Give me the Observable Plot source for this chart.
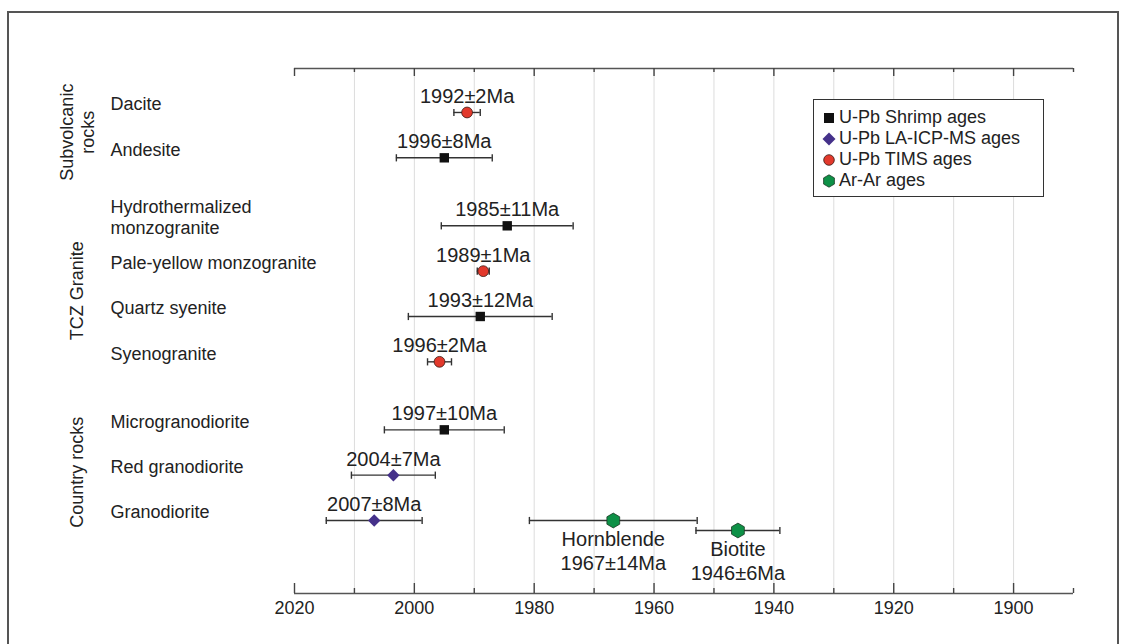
<!DOCTYPE html>
<html><head><meta charset="utf-8">
<script src="https://cdn.jsdelivr.net/npm/d3@7"></script>
<script src="https://cdn.jsdelivr.net/npm/@observablehq/plot@0.6"></script>
<style>
body{margin:0;background:#fff;font-family:"Liberation Sans",Arial,sans-serif;color:#222;}
#wrap{position:relative;width:1128px;height:644px;overflow:hidden;background:#fff;}
#chart{position:absolute;left:0;top:0;}
#border{position:absolute;left:7px;top:11px;width:1112px;height:700px;border:2px solid #555;box-sizing:border-box;pointer-events:none;}
#legend{position:absolute;left:813px;top:99px;width:231px;height:98px;border:1.5px solid #333;box-sizing:border-box;background:#fff;padding:7px 0 0 8px;}
#legend .row{display:flex;align-items:center;height:21px;font-size:18px;line-height:21px;color:#222;white-space:nowrap;}
#legend svg{width:14px;height:14px;margin-right:3px;}
</style></head><body>
<div id="wrap"><div id="chart"></div><div id="legend"></div><div id="border"></div></div>
<script>
// ---- data ----
const groupNames = ["Subvolcanic\nrocks", "TCZ Granite", "Country rocks"];
const sampleNames = ["Dacite", "Andesite", "Hydrothermalized\nmonzogranite", "Pale-yellow monzogranite",
  "Quartz syenite", "Syenogranite", "Microgranodiorite", "Red granodiorite", "Granodiorite"];
const sampleGroup = [0, 0, 1, 1, 1, 1, 2, 2, 2];

const mSample = ["Dacite", "Andesite", "Hydrothermalized\nmonzogranite", "Pale-yellow monzogranite",
  "Quartz syenite", "Syenogranite", "Microgranodiorite", "Red granodiorite", "Granodiorite",
  "Granodiorite", "Granodiorite"];
const mMethod = ["TIMS", "Shrimp", "Shrimp", "TIMS", "Shrimp", "TIMS", "Shrimp", "LA", "LA", "ArAr", "ArAr"];
const mAge = [1991.2, 1995, 1984.5, 1988.5, 1989, 1995.8, 1995, 2003.5, 2006.7, 1966.8, 1946];
const mErr = [2.2, 8, 11, 1, 12, 2, 10, 7, 8, 14, 7];
const mLabel = ["1992±2Ma", "1996±8Ma", "1985±11Ma", "1989±1Ma", "1993±12Ma", "1996±2Ma",
  "1997±10Ma", "2004±7Ma", "2007±8Ma", "Hornblende\n1967±14Ma", "Biotite\n1946±6Ma"];

const methodKeys = ["Shrimp", "LA", "TIMS", "ArAr"];
const methodNames = ["U-Pb Shrimp ages", "U-Pb LA-ICP-MS ages", "U-Pb TIMS ages", "Ar-Ar ages"];

const majorYears = [2020, 2000, 1980, 1960, 1940, 1920, 1900];
const minorYears = [2010, 1990, 1970, 1950, 1930, 1910, 1890];
const gridYears = [2010, 2000, 1990, 1980, 1970, 1960, 1950, 1940, 1930, 1920, 1910, 1900];
const xDomain = [2020, 1890];

// ---- styles ----
const methodStyle = {
  Shrimp: {symbol: "square", r: 5.3, fill: "#111", stroke: "none", strokeWidth: 0},
  LA: {symbol: "diamond2", r: 5.6, fill: "#45318a", stroke: "none", strokeWidth: 0},
  TIMS: {symbol: "circle", r: 5.4, fill: "#e2392c", stroke: "#3a1a14", strokeWidth: 0.8},
  ArAr: {symbol: "hexagon", r: 6.4, fill: "#0e9147", stroke: "#1d3a26", strokeWidth: 0.8}
};

// ---- layout of rows: groups separated by a half-row gap ----
const rowOf = {};
const samples = sampleNames.map((s, i) => {
  const row = i + 0.5 * sampleGroup[i];
  rowOf[s] = row;
  return {name: s, row};
});
const groups = groupNames.map((g, gi) => {
  const rows = samples.filter((s, i) => sampleGroup[i] === gi).map(s => s.row);
  return {name: g, row: (d3.min(rows) + d3.max(rows)) / 2};
});
const lastRow = d3.max(samples, d => d.row);
const yDomain = [-0.97, lastRow + 1.61];

const meas = mSample.map((s, i) => ({
  sample: s, method: mMethod[i], age: mAge[i], err: mErr[i], label: mLabel[i],
  lo: mAge[i] - mErr[i], hi: mAge[i] + mErr[i], row: rowOf[s]
}));
// bars that touch an earlier bar on the same row are nudged down
meas.forEach((d, i) => {
  d.shifted = meas.slice(0, i).some(p => p.row === d.row && !p.shifted &&
    Math.max(p.lo, d.lo) <= Math.min(p.hi, d.hi) + 0.5);
});

const capSymbol = {
  draw(context, size) {
    const h = Math.sqrt(size / Math.PI);
    context.moveTo(0, -h);
    context.lineTo(0, h);
  }
};

function layer(data, dy) {
  const out = [
    Plot.ruleY(data, {y: "row", x1: "lo", x2: "hi", stroke: "#333", strokeWidth: 1.4, dy}),
    Plot.dot(data, {x: "lo", y: "row", symbol: capSymbol, r: 3.6, fill: "none", stroke: "#333", strokeWidth: 1.4, dy}),
    Plot.dot(data, {x: "hi", y: "row", symbol: capSymbol, r: 3.6, fill: "none", stroke: "#333", strokeWidth: 1.4, dy})
  ];
  for (const k of methodKeys) {
    const st = methodStyle[k];
    out.push(Plot.dot(data.filter(d => d.method === k), {
      x: "age", y: "row", symbol: st.symbol, r: st.r, fill: st.fill,
      stroke: st.stroke, strokeWidth: st.strokeWidth, dy
    }));
  }
  out.push(Plot.text(data.filter(d => d.method !== "ArAr"), {
    x: "age", y: "row", text: "label", dy: dy - 16, fontSize: 20, fill: "#222"
  }));
  out.push(Plot.text(data.filter(d => d.method === "ArAr"), {
    x: "age", y: "row", text: "label", dy: dy + 8, lineAnchor: "top", lineHeight: 1.2, fontSize: 20, fill: "#222"
  }));
  return out;
}

const frameH = 644 - 68 - 51;

const chart = Plot.plot({
  width: 1128, height: 644,
  marginLeft: 294, marginRight: 55, marginTop: 68, marginBottom: 51,
  x: {domain: xDomain, axis: null},
  y: {domain: yDomain, reverse: true, axis: null},
  style: {fontFamily: '"Liberation Sans", Arial, sans-serif', background: "transparent", color: "#222", overflow: "visible"},
  marks: [
    Plot.ruleX(gridYears, {stroke: "#dcdcdc", strokeWidth: 1}),
    Plot.ruleY([yDomain[0], yDomain[1]], {stroke: "#555", strokeWidth: 1.6}),
    // bottom ticks (inward)
    Plot.ruleX(majorYears, {stroke: "#444", strokeWidth: 1.4, insetTop: frameH - 10}),
    Plot.ruleX(minorYears, {stroke: "#444", strokeWidth: 1.4, insetTop: frameH - 5}),
    // top ticks (inward)
    Plot.ruleX(majorYears, {stroke: "#444", strokeWidth: 1.4, insetBottom: frameH - 8}),
    Plot.ruleX(minorYears, {stroke: "#444", strokeWidth: 1.4, insetBottom: frameH - 4}),
    Plot.text(majorYears, {x: d => d, text: d => String(d), frameAnchor: "bottom", dy: 20, fontSize: 18, fill: "#222"}),
    // sample labels
    Plot.text(samples, {y: "row", text: "name", frameAnchor: "left", dx: -184, dy: -9, textAnchor: "start", fontSize: 18, lineHeight: 1.17, fill: "#222"}),
    // group labels
    Plot.text(groups, {y: "row", text: "name", frameAnchor: "left", dx: -218, dy: -3, rotate: -90, textAnchor: "middle", fontSize: 18, lineHeight: 1.2, fill: "#222"}),
    ...layer(meas.filter(d => !d.shifted), 0),
    ...layer(meas.filter(d => d.shifted), 10)
  ]
});
document.getElementById("chart").appendChild(chart);

// ---- legend ----
const legendSvg = {
  Shrimp: '<rect x="2" y="2" width="10" height="10" fill="#111"/>',
  LA: '<polygon points="7,0.5 13.5,7 7,13.5 0.5,7" fill="#45318a"/>',
  TIMS: '<circle cx="7" cy="7" r="5.3" fill="#e2392c" stroke="#3a1a14" stroke-width="0.8"/>',
  ArAr: '<polygon points="7,0.8 12.4,3.9 12.4,10.1 7,13.2 1.6,10.1 1.6,3.9" fill="#0e9147" stroke="#1d3a26" stroke-width="0.8"/>'
};
const legend = document.getElementById("legend");
methodKeys.forEach((k, i) => {
  const row = document.createElement("div");
  row.className = "row";
  row.innerHTML = `<svg viewBox="0 0 14 14">${legendSvg[k]}</svg><span>${methodNames[i]}</span>`;
  legend.appendChild(row);
});
</script>
</body></html>
